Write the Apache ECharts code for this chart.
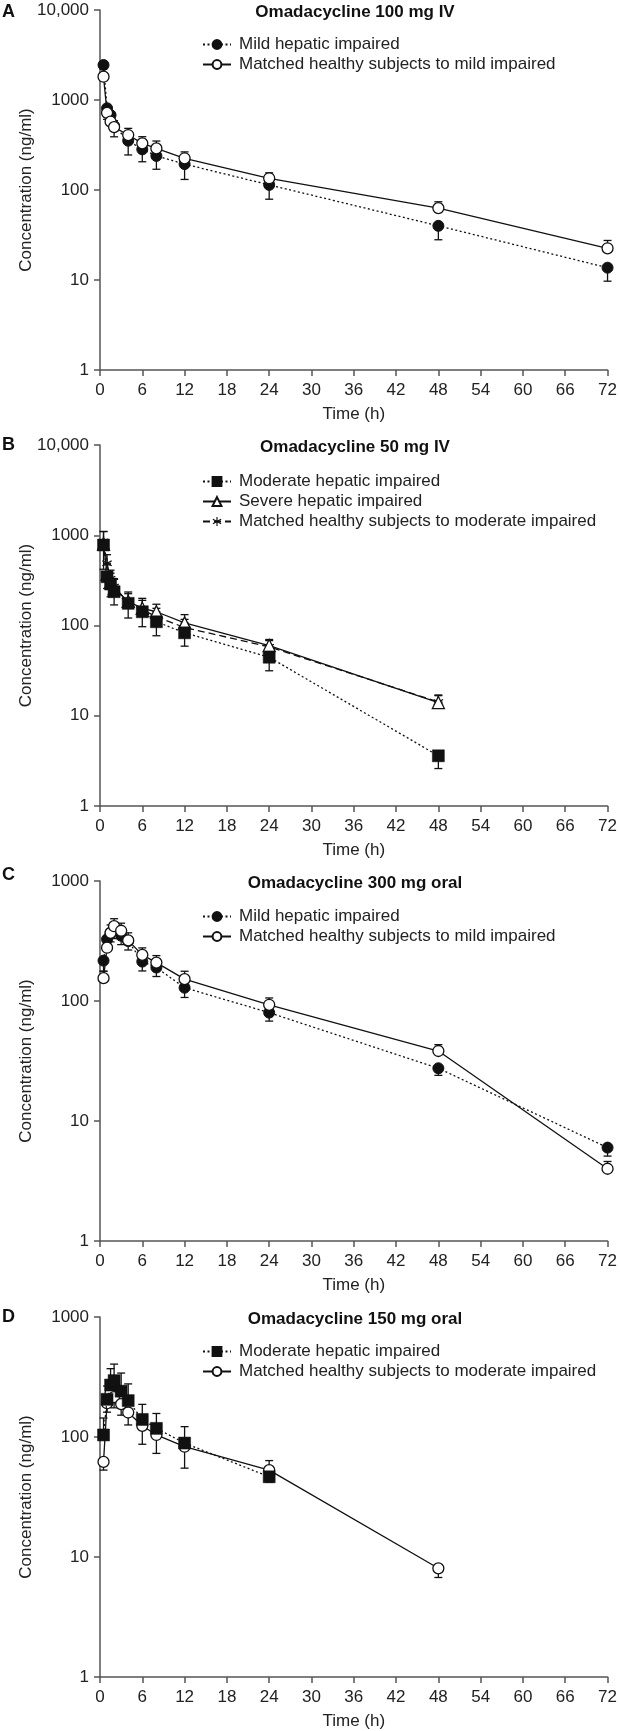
<!DOCTYPE html>
<html><head><meta charset="utf-8">
<script src="https://cdn.jsdelivr.net/npm/echarts@6/dist/echarts.min.js"></script>
<style>html,body{margin:0;padding:0;background:#fff}#c{width:620px;height:1731px}</style>
</head><body><div id="c"></div>
<script>
// ---------- DATA ----------
const xTicks = [0, 6, 12, 18, 24, 30, 36, 42, 48, 54, 60, 66, 72];
const panelTitles = ['Omadacycline 100 mg IV', 'Omadacycline 50 mg IV', 'Omadacycline 300 mg oral', 'Omadacycline 150 mg oral'];
const panelLetters = ['A', 'B', 'C', 'D'];

// Panel A (100 mg IV)
const timesA = [0.5, 1, 1.5, 2, 4, 6, 8, 12, 24, 48, 72];
const A_mild = [2450, 810, 680, 515, 353, 283, 239, 194, 114, 40, 13.7];
const A_mild_sd = [770, 200, 150, 125, 108, 77, 69, 63, 35, 12, 4];
const A_healthy = [1815, 720, 575, 500, 408, 330, 290, 225, 135, 63, 22.5];
const A_healthy_sd = [400, 150, 100, 90, 76, 61, 60, 40, 20, 11, 5];

// Panel B (50 mg IV)
const timesB = [0.5, 1, 1.5, 2, 4, 6, 8, 12, 24, 48];
const B_moderate = [780, 347, 288, 237, 176, 142, 110, 83, 44.5, 3.6];
const B_moderate_sd = [360, 90, 80, 68, 55, 45, 33, 24, 13, 1];
const B_severe = [800, 370, 300, 255, 185, 155, 142, 107, 60, 14];
const B_severe_sd = [300, 100, 80, 70, 50, 45, 30, 25, 10, 3];
const B_healthy = [850, 489, 330, 270, 180, 150, 125, 95, 58, 14.2];
const B_healthy_sd = [250, 120, 80, 60, 45, 40, 30, 22, 10, 2.5];

// Panel C (300 mg oral)
const timesC = [0.5, 1, 1.5, 2, 3, 4, 6, 8, 12, 24, 48, 72];
const C_mild = [217, 327, 371, 391, 350, 316, 213, 190, 129, 80, 27.5, 6.0];
const C_mild_sd = [40, 50, 60, 60, 55, 50, 35, 30, 22, 12, 3.5, 0.9];
const C_healthy = [155, 278, 370, 420, 385, 320, 242, 209, 152, 93, 38.3, 4.0];
const C_healthy_sd = [22, 40, 60, 65, 60, 50, 35, 30, 25, 13, 5, 0.6];

// Panel D (150 mg oral)
const timesD_mod = [0.5, 1, 1.5, 2, 3, 4, 6, 8, 12, 24];
const D_moderate = [104, 206, 271, 295, 241, 201, 140, 118, 89, 46.6];
const D_moderate_sd = [40, 60, 100, 110, 100, 76, 47, 39, 33, 17];
const timesD_hea = [0.5, 1, 1.5, 2, 3, 4, 6, 8, 12, 24, 48];
const D_healthy = [62, 191, 233, 215, 188, 160, 124, 104, 83, 53, 8.05];
const D_healthy_sd = [9, 30, 40, 40, 36, 34, 37, 31, 28, 11, 1.3];

const yMaxs = [10000, 10000, 1000, 1000];

// ---------- STYLES / LAYOUT ----------
const FONT = '"Liberation Sans", Arial, Helvetica, sans-serif';
const FS = 17;
const INK = '#111';
const AXIS = '#555';
const gridTops = [10, 445, 881, 1317];
const gridHeights = [360, 361, 360, 360];
const letterY = [12, 445, 875, 1317];
const legendTops = [36, 473, 908, 1343];

const ASTER = 'path://M-0.12,-1 L0.12,-1 L0.12,1 L-0.12,1 Z M0.806,-0.604 L0.926,-0.396 L-0.806,0.604 L-0.926,0.396 Z M0.926,0.396 L0.806,0.604 L-0.926,-0.396 L-0.806,-0.604 Z';

const styles = {
  filledCircle: {symbol: 'circle', symbolSize: 11, itemStyle: {color: INK, borderColor: INK, borderWidth: 1}},
  openCircle: {symbol: 'circle', symbolSize: 11, itemStyle: {color: '#fff', borderColor: INK, borderWidth: 1.3}},
  filledSquare: {symbol: 'rect', symbolSize: 12, itemStyle: {color: INK, borderColor: INK, borderWidth: 0.5}},
  openTriangle: {symbol: 'triangle', symbolSize: 12, itemStyle: {color: '#fff', borderColor: INK, borderWidth: 1.3}},
  asterisk: {symbol: ASTER, symbolSize: 10, itemStyle: {color: INK}}
};
const lines = {
  dotted: {color: INK, width: 1.3, type: [2, 2.5]},
  solid: {color: INK, width: 1.3, type: 'solid'},
  dashed: {color: INK, width: 1.3, type: [7, 4]}
};

function lineSeries(name, idx, times, vals, sty, ls, z) {
  return Object.assign({
    type: 'line', name: name, xAxisIndex: idx, yAxisIndex: idx,
    data: times.map((t, i) => [t, vals[i]]),
    lineStyle: ls, z: z || 3, showAllSymbol: true, animation: false
  }, sty);
}
function errSeries(idx, times, vals, sds, dir) {
  const data = times.map((t, i) => {
    const lo = dir === 'up' ? vals[i] : Math.max(vals[i] - sds[i], 1.02);
    const hi = dir === 'down' ? vals[i] : vals[i] + sds[i];
    return [t, lo, hi];
  });
  return {
    type: 'custom', xAxisIndex: idx, yAxisIndex: idx, silent: true, z: 1, animation: false,
    data: data, encode: {x: 0, y: [1, 2]},
    renderItem: function (params, api) {
      const x = api.value(0);
      const lo = api.coord([x, api.value(1)]);
      const hi = api.coord([x, api.value(2)]);
      const w = 4;
      const st = {stroke: INK, lineWidth: 1.3};
      return {type: 'group', children: [
        {type: 'line', shape: {x1: lo[0], y1: lo[1], x2: hi[0], y2: hi[1]}, style: st},
        {type: 'line', shape: {x1: lo[0] - w, y1: lo[1], x2: lo[0] + w, y2: lo[1]}, style: st},
        {type: 'line', shape: {x1: hi[0] - w, y1: hi[1], x2: hi[0] + w, y2: hi[1]}, style: st}
      ]};
    }
  };
}

const grids = [], xAxes = [], yAxes = [], legends = [], graphics = [];
for (let i = 0; i < 4; i++) {
  grids.push({left: 100, width: 510, top: gridTops[i], height: gridHeights[i]});
  xAxes.push({
    type: 'value', gridIndex: i, min: 0, max: 72, interval: 6,
    axisLine: {show: true, lineStyle: {color: AXIS, width: 1.5}},
    axisTick: {show: true, length: 6, lineStyle: {color: AXIS, width: 1.5}},
    axisLabel: {fontSize: FS, color: '#222', fontFamily: FONT, margin: 12,
      formatter: v => xTicks.indexOf(v) >= 0 ? String(v) : ''},
    splitLine: {show: false},
    name: 'Time (h)', nameLocation: 'middle', nameGap: 36, nameMoveOverlap: false,
    nameTextStyle: {fontSize: FS, color: '#222', fontFamily: FONT}
  });
  yAxes.push({
    type: 'log', logBase: 10, gridIndex: i, min: 1, max: yMaxs[i],
    axisLine: {show: true, lineStyle: {color: AXIS, width: 1.5}},
    axisTick: {show: true, length: 6, lineStyle: {color: AXIS, width: 1.5}},
    axisLabel: {fontSize: FS, color: '#222', fontFamily: FONT, margin: 11,
      formatter: v => (v >= 10000 ? '10,000' : String(Math.round(v)))},
    splitLine: {show: false}, minorTick: {show: false},
    name: 'Concentration (ng/ml)', nameLocation: 'middle', nameGap: 65, nameMoveOverlap: false,
    nameTextStyle: {fontSize: FS, color: '#222', fontFamily: FONT}
  });
  graphics.push({type: 'text', x: 355, y: gridTops[i] + 2, silent: true,
    style: {text: panelTitles[i], font: 'bold ' + FS + 'px ' + FONT, fill: INK, align: 'center', verticalAlign: 'middle'}});
  graphics.push({type: 'text', x: 2, y: letterY[i], silent: true,
    style: {text: panelLetters[i], font: 'bold 18px ' + FONT, fill: INK, align: 'left', verticalAlign: 'middle'}});
}

const series = [
  // A
  errSeries(0, timesA, A_mild, A_mild_sd, 'down'),
  errSeries(0, timesA, A_healthy, A_healthy_sd, 'up'),
  lineSeries('Mild hepatic impaired|A', 0, timesA, A_mild, styles.filledCircle, lines.dotted, 3),
  lineSeries('Matched healthy subjects to mild impaired|A', 0, timesA, A_healthy, styles.openCircle, lines.solid, 4),
  // B
  errSeries(1, timesB, B_moderate, B_moderate_sd, 'down'),
  errSeries(1, timesB, B_severe, B_severe_sd, 'up'),
  errSeries(1, timesB, B_healthy, B_healthy_sd, 'up'),
  lineSeries('Moderate hepatic impaired|B', 1, timesB, B_moderate, styles.filledSquare, lines.dotted, 5),
  lineSeries('Severe hepatic impaired|B', 1, timesB, B_severe, styles.openTriangle, lines.solid, 4),
  lineSeries('Matched healthy subjects to moderate impaired|B', 1, timesB, B_healthy, styles.asterisk, lines.dashed, 3),
  // C
  errSeries(2, timesC, C_mild, C_mild_sd, 'down'),
  errSeries(2, timesC, C_healthy, C_healthy_sd, 'up'),
  lineSeries('Mild hepatic impaired|C', 2, timesC, C_mild, styles.filledCircle, lines.dotted, 3),
  lineSeries('Matched healthy subjects to mild impaired|C', 2, timesC, C_healthy, styles.openCircle, lines.solid, 4),
  // D
  errSeries(3, timesD_mod, D_moderate, D_moderate_sd, 'up'),
  errSeries(3, timesD_hea, D_healthy, D_healthy_sd, 'down'),
  lineSeries('Moderate hepatic impaired|D', 3, timesD_mod, D_moderate, styles.filledSquare, lines.dotted, 4),
  lineSeries('Matched healthy subjects to moderate impaired|D', 3, timesD_hea, D_healthy, styles.openCircle, lines.solid, 3)
];

const legendData = [
  ['Mild hepatic impaired|A', 'Matched healthy subjects to mild impaired|A'],
  ['Moderate hepatic impaired|B', 'Severe hepatic impaired|B', 'Matched healthy subjects to moderate impaired|B'],
  ['Mild hepatic impaired|C', 'Matched healthy subjects to mild impaired|C'],
  ['Moderate hepatic impaired|D', 'Matched healthy subjects to moderate impaired|D']
];
for (let i = 0; i < 4; i++) {
  legends.push({
    orient: 'vertical', left: 202, top: legendTops[i], padding: 0,
    itemWidth: 28, itemHeight: 11, itemGap: 3, selectedMode: false,
    data: legendData[i],
    formatter: n => n.split('|')[0],
    textStyle: {fontSize: FS, color: '#222', fontFamily: FONT, padding: [0, 0, 0, 3]}
  });
}

const chart = echarts.init(document.getElementById('c'), null, {renderer: 'canvas'});
chart.setOption({
  animation: false,
  backgroundColor: '#fff',
  grid: grids, xAxis: xAxes, yAxis: yAxes,
  legend: legends, graphic: graphics, series: series
});
</script></body></html>
